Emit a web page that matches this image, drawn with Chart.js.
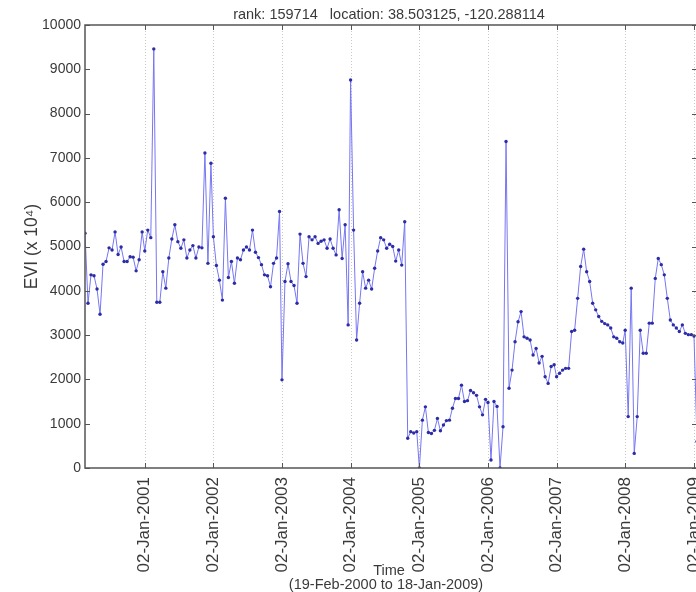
<!DOCTYPE html>
<html>
<head>
<meta charset="utf-8">
<script src="https://cdn.jsdelivr.net/npm/chart.js@4.4.1/dist/chart.umd.min.js"></script>
<style>
html, body { margin: 0; padding: 0; background: #fff; overflow: hidden; }
#wrap { position: relative; width: 740px; height: 592px; }
</style>
</head>
<body>
<div id="wrap"><canvas id="c" width="740" height="592"></canvas></div>
<script>
// ---- texts ----
const titleText = 'rank: 159714   location: 38.503125, -120.288114';
const yAxisTitle = 'EVI (x 10\u2074)';
const xAxisTitle = 'Time';
const xAxisSubtitle = '(19-Feb-2000 to 18-Jan-2009)';

// ---- categories: 16-day composite days of year ----
const compositeDoy = [1, 17, 33, 49, 65, 81, 97, 113, 129, 145, 161, 177, 193, 209, 225, 241, 257, 273, 289, 305, 321, 337, 353];
const monthNames = ['Jan','Feb','Mar','Apr','May','Jun','Jul','Aug','Sep','Oct','Nov','Dec'];
const tickYears = [2001, 2002, 2003, 2004, 2005, 2006, 2007, 2008, 2009];
const yTicks = [0, 1000, 2000, 3000, 4000, 5000, 6000, 7000, 8000, 9000, 10000];

// ---- series values (EVI x 10^4) ----
const evi2000 = [5300, 3720, 4360, 4340, 4040, 3470, 4600, 4660, 4970, 4920, 5330, 4820, 4990, 4660, 4660, 4770, 4760, 4450, 4700, 5330];
const evi2001 = [4900, 5370, 5200, 9460, 3740, 3740, 4430, 4060, 4740, 5170, 5490, 5110, 4960, 5150, 4740, 4920, 5020, 4740, 4990, 4970, 7110, 4620, 6880];
const evi2002 = [5220, 4570, 4240, 3790, 6090, 4300, 4660, 4170, 4740, 4700, 4920, 4990, 4920, 5370, 4870, 4750, 4590, 4360, 4340, 4090, 4620, 4740, 5790];
const evi2003 = [1990, 4210, 4610, 4210, 4120, 3720, 5280, 4620, 4320, 5220, 5150, 5220, 5070, 5120, 5150, 4960, 5170, 4960, 4810, 5830, 4730, 5490, 3230];
const evi2004 = [8760, 5370, 2890, 3720, 4430, 4060, 4240, 4040, 4510, 4900, 5200, 5150, 4960, 5050, 5000, 4670, 4920, 4580, 5560, 670, 820, 790, 820];
const evi2005 = [0, 1080, 1380, 800, 780, 850, 1120, 840, 970, 1070, 1080, 1350, 1570, 1570, 1870, 1500, 1520, 1750, 1700, 1640, 1380, 1200, 1550];
const evi2006 = [1480, 180, 1500, 1390, 0, 930, 7370, 1800, 2210, 2850, 3300, 3530, 2960, 2930, 2890, 2550, 2700, 2370, 2520, 2060, 1910, 2290, 2330];
const evi2007 = [2060, 2140, 2210, 2250, 2250, 3080, 3110, 3830, 4550, 4940, 4430, 4210, 3720, 3570, 3420, 3310, 3260, 3230, 3160, 2960, 2930, 2850, 2820];
const evi2008 = [3110, 1160, 4060, 330, 1160, 3110, 2590, 2590, 3270, 3270, 4280, 4730, 4590, 4360, 3830, 3340, 3230, 3160, 3080, 3230, 3040, 3010, 3010];
const evi2009 = [2980, 600];

// ---- build the point table from the arrays ----
const DAY = 86400000;
const base = Date.UTC(2000, 0, 1);
function dayOf(y, m, d) { return (Date.UTC(y, m, d) - base) / DAY; }
function fmtDay(v) {
  const dt = new Date(base + Math.round(v) * DAY);
  const dd = String(dt.getUTCDate()).padStart(2, '0');
  return dd + '-' + monthNames[dt.getUTCMonth()] + '-' + dt.getUTCFullYear();
}
const yearSeries = [
  [2000, evi2000], [2001, evi2001], [2002, evi2002], [2003, evi2003], [2004, evi2004],
  [2005, evi2005], [2006, evi2006], [2007, evi2007], [2008, evi2008], [2009, evi2009]
];
const points = [];
yearSeries.forEach(([yr, vals]) => {
  const doys = yr === 2000 ? compositeDoy.slice(compositeDoy.length - vals.length) : compositeDoy.slice(0, vals.length);
  vals.forEach((v, i) => points.push({ x: dayOf(yr, 0, 1) + doys[i], y: v }));
});
const xMin = points[0].x;
const xMax = points[points.length - 1].x;

const FONT = "'Liberation Sans', 'DejaVu Sans', Arial, sans-serif";
const TEXT = '#3a3a3a';

const framePlugin = {
  id: 'frame',
  beforeDatasetsDraw(chart) {
    const { ctx, chartArea: a, scales: { x } } = chart;
    ctx.save();
    ctx.strokeStyle = '#c8c8c8';
    ctx.lineWidth = 1;
    ctx.setLineDash([1, 2]);
    tickYears.forEach(yr => {
      const px = Math.round(x.getPixelForValue(dayOf(yr, 0, 2))) + 0.5;
      ctx.beginPath(); ctx.moveTo(px, a.top); ctx.lineTo(px, a.bottom); ctx.stroke();
    });
    ctx.restore();
  },
  afterDatasetsDraw(chart) {
    const { ctx, chartArea: a, scales: { x, y } } = chart;
    ctx.save();
    ctx.strokeStyle = '#555';
    ctx.lineWidth = 1.5;
    ctx.strokeRect(a.left, a.top, a.right - a.left, a.bottom - a.top);
    ctx.lineWidth = 1;
    const seg = (x1, y1, x2, y2) => { ctx.beginPath(); ctx.moveTo(x1, y1); ctx.lineTo(x2, y2); ctx.stroke(); };
    yTicks.forEach(v => {
      const py = Math.round(y.getPixelForValue(v)) + 0.5;
      seg(a.left, py, a.left + 5, py);
      seg(a.right, py, a.right - 5, py);
    });
    tickYears.forEach(yr => {
      const px = Math.round(x.getPixelForValue(dayOf(yr, 0, 2))) + 0.5;
      seg(px, a.bottom, px, a.bottom - 5);
      seg(px, a.top, px, a.top + 5);
    });
    ctx.restore();
  },
  afterDraw(chart) {
    const { ctx, chartArea: a } = chart;
    const cx = (a.left + a.right) / 2;
    ctx.save();
    ctx.fillStyle = TEXT;
    ctx.textAlign = 'center';
    ctx.textBaseline = 'middle';
    ctx.font = '14.5px ' + FONT;
    ctx.fillText(titleText, cx - 2, 15);
    ctx.fillText(xAxisTitle, cx - 2, 571);
    ctx.fillText(xAxisSubtitle, cx - 5, 585);
    ctx.translate(32, (a.top + a.bottom) / 2);
    ctx.rotate(-Math.PI / 2);
    ctx.font = '17.5px ' + FONT;
    ctx.fillText(yAxisTitle, 0, 0);
    ctx.restore();
  }
};

new Chart(document.getElementById('c'), {
  type: 'line',
  data: {
    datasets: [{
      data: points,
      borderColor: '#7676f2',
      borderWidth: 1,
      pointRadius: 1.7,
      pointBackgroundColor: '#2c2ca6',
      pointBorderWidth: 0,
      tension: 0,
      fill: false
    }]
  },
  options: {
    responsive: false,
    animation: false,
    devicePixelRatio: 1,
    layout: { padding: { top: 25, right: 43, left: 0, bottom: 0 } },
    plugins: { legend: { display: false }, tooltip: { enabled: false }, title: { display: false } },
    scales: {
      x: {
        type: 'linear',
        min: xMin,
        max: xMax,
        afterBuildTicks(s) { s.ticks = tickYears.map(yr => ({ value: dayOf(yr, 0, 2) })); },
        afterFit(s) { s.height = 124; },
        grid: { display: false, drawTicks: false },
        border: { display: false },
        ticks: {
          autoSkip: false,
          minRotation: 90,
          maxRotation: 90,
          padding: 9,
          color: TEXT,
          font: { family: FONT, size: 17 },
          callback: v => fmtDay(v)
        }
      },
      y: {
        min: 0,
        max: 10000,
        afterBuildTicks(s) { s.ticks = yTicks.map(v => ({ value: v })); },
        afterFit(s) { s.width = 85; },
        grid: { display: false, drawTicks: false },
        border: { display: false },
        ticks: {
          padding: 4,
          color: TEXT,
          font: { family: FONT, size: 14 },
          callback: v => String(v)
        }
      }
    }
  },
  plugins: [framePlugin]
});
</script>
</body>
</html>
